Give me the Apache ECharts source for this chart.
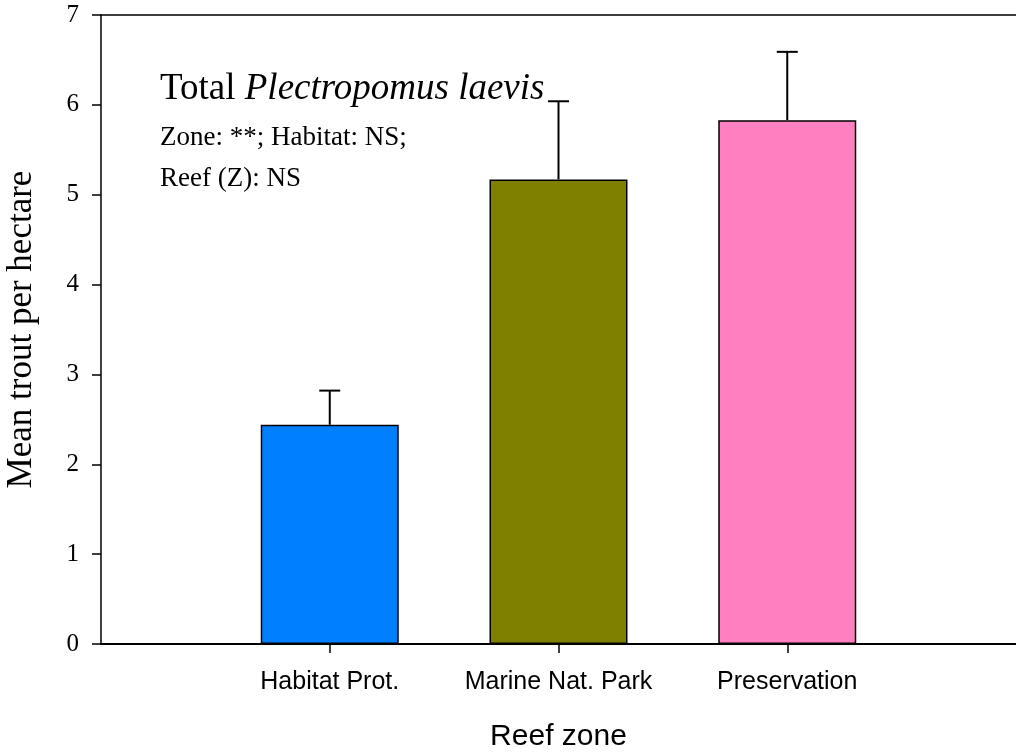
<!DOCTYPE html>
<html>
<head>
<meta charset="utf-8">
<script src="https://cdn.jsdelivr.net/npm/echarts@6/dist/echarts.min.js"></script>
<style>
  html, body { margin: 0; padding: 0; background: #fff; }
  #chart { width: 1016px; height: 754px; }
</style>
</head>
<body>
<div id="chart"></div>
<script>
// zones sit at positions 1..3 of a 0..4 axis, so pad both ends
var zones = ["Habitat Prot.", "Marine Nat. Park", "Preservation"];
var means = [2.44, 5.17, 5.83];
var upper = [2.82, 6.04, 6.59];
var colors = ["#0080FF", "#808000", "#FF80C0"];
var yTicks = [0, 1, 2, 3, 4, 5, 6, 7];

var cats = [""].concat(zones, [""]);

var barData = ["-"];
zones.forEach(function (z, i) {
  barData.push({ value: means[i], itemStyle: { color: colors[i] } });
});
barData.push("-");

var errData = zones.map(function (z, i) {
  return [i + 1, means[i], upper[i]];
});

var serif = "Liberation Serif";
var sans = "Liberation Sans";

var chart = echarts.init(document.getElementById("chart"));

var option = {
  animation: false,
  grid: { left: 101, right: 0, top: 15, bottom: 110, outerBoundsMode: "none", containLabel: false },
  xAxis: [
    {
      type: "category",
      data: cats,
      boundaryGap: false,
      name: "Reef zone",
      nameLocation: "middle",
      nameGap: 78,
      nameTextStyle: { fontFamily: sans, fontSize: 30, color: "#000" },
      axisLine: { lineStyle: { color: "#000", width: 2 } },
      axisTick: {
        show: true,
        length: 9,
        lineStyle: { color: "#000", width: 1.5 },
        interval: function (idx, val) { return val !== ""; }
      },
      axisLabel: {
        interval: 0,
        margin: 26,
        fontFamily: sans,
        fontSize: 25,
        color: "#000"
      },
      splitLine: { show: false }
    },
    {
      type: "category",
      data: cats,
      boundaryGap: false,
      position: "top",
      axisLine: { lineStyle: { color: "#000", width: 1.5 } },
      axisTick: { show: false },
      axisLabel: { show: false },
      splitLine: { show: false }
    }
  ],
  yAxis: {
    type: "value",
    min: yTicks[0],
    max: yTicks[yTicks.length - 1],
    interval: 1,
    name: "Mean trout per hectare",
    nameLocation: "middle",
    nameGap: 62,
    nameTextStyle: { fontFamily: serif, fontSize: 35, color: "#000" },
    axisLine: { show: true, lineStyle: { color: "#000", width: 1.5 } },
    axisTick: { show: true, length: 9, lineStyle: { color: "#000", width: 1.5 } },
    axisLabel: { margin: 22, fontFamily: serif, fontSize: 25, color: "#000" },
    splitLine: { show: false }
  },
  series: [
    {
      type: "bar",
      data: barData,
      barWidth: 138,
      itemStyle: { borderColor: "#000", borderWidth: 1.5 },
      z: 2
    },
    {
      type: "custom",
      data: errData,
      z: 3,
      renderItem: function (params, api) {
        var base = api.coord([api.value(0), api.value(1)]);
        var top = api.coord([api.value(0), api.value(2)]);
        var half = 10.5;
        var st = { stroke: "#000", lineWidth: 2 };
        return {
          type: "group",
          children: [
            { type: "line", shape: { x1: base[0], y1: base[1], x2: top[0], y2: top[1] }, style: st },
            { type: "line", shape: { x1: top[0] - half, y1: top[1], x2: top[0] + half, y2: top[1] }, style: st }
          ]
        };
      }
    }
  ],
  graphic: [
    {
      type: "text",
      left: 160,
      top: 71,
      style: {
        text: "{a|Total }{b|Plectropomus laevis}",
        rich: {
          a: { fontFamily: serif, fontSize: 37, fill: "#000" },
          b: { fontFamily: serif, fontSize: 37, fontStyle: "italic", fill: "#000" }
        }
      }
    },
    {
      type: "text",
      left: 160,
      top: 124,
      style: { text: "Zone: **; Habitat: NS;", fontFamily: serif, fontSize: 27, fill: "#000" }
    },
    {
      type: "text",
      left: 160,
      top: 165,
      style: { text: "Reef (Z): NS", fontFamily: serif, fontSize: 27, fill: "#000" }
    }
  ]
};

chart.setOption(option);
</script>
</body>
</html>
